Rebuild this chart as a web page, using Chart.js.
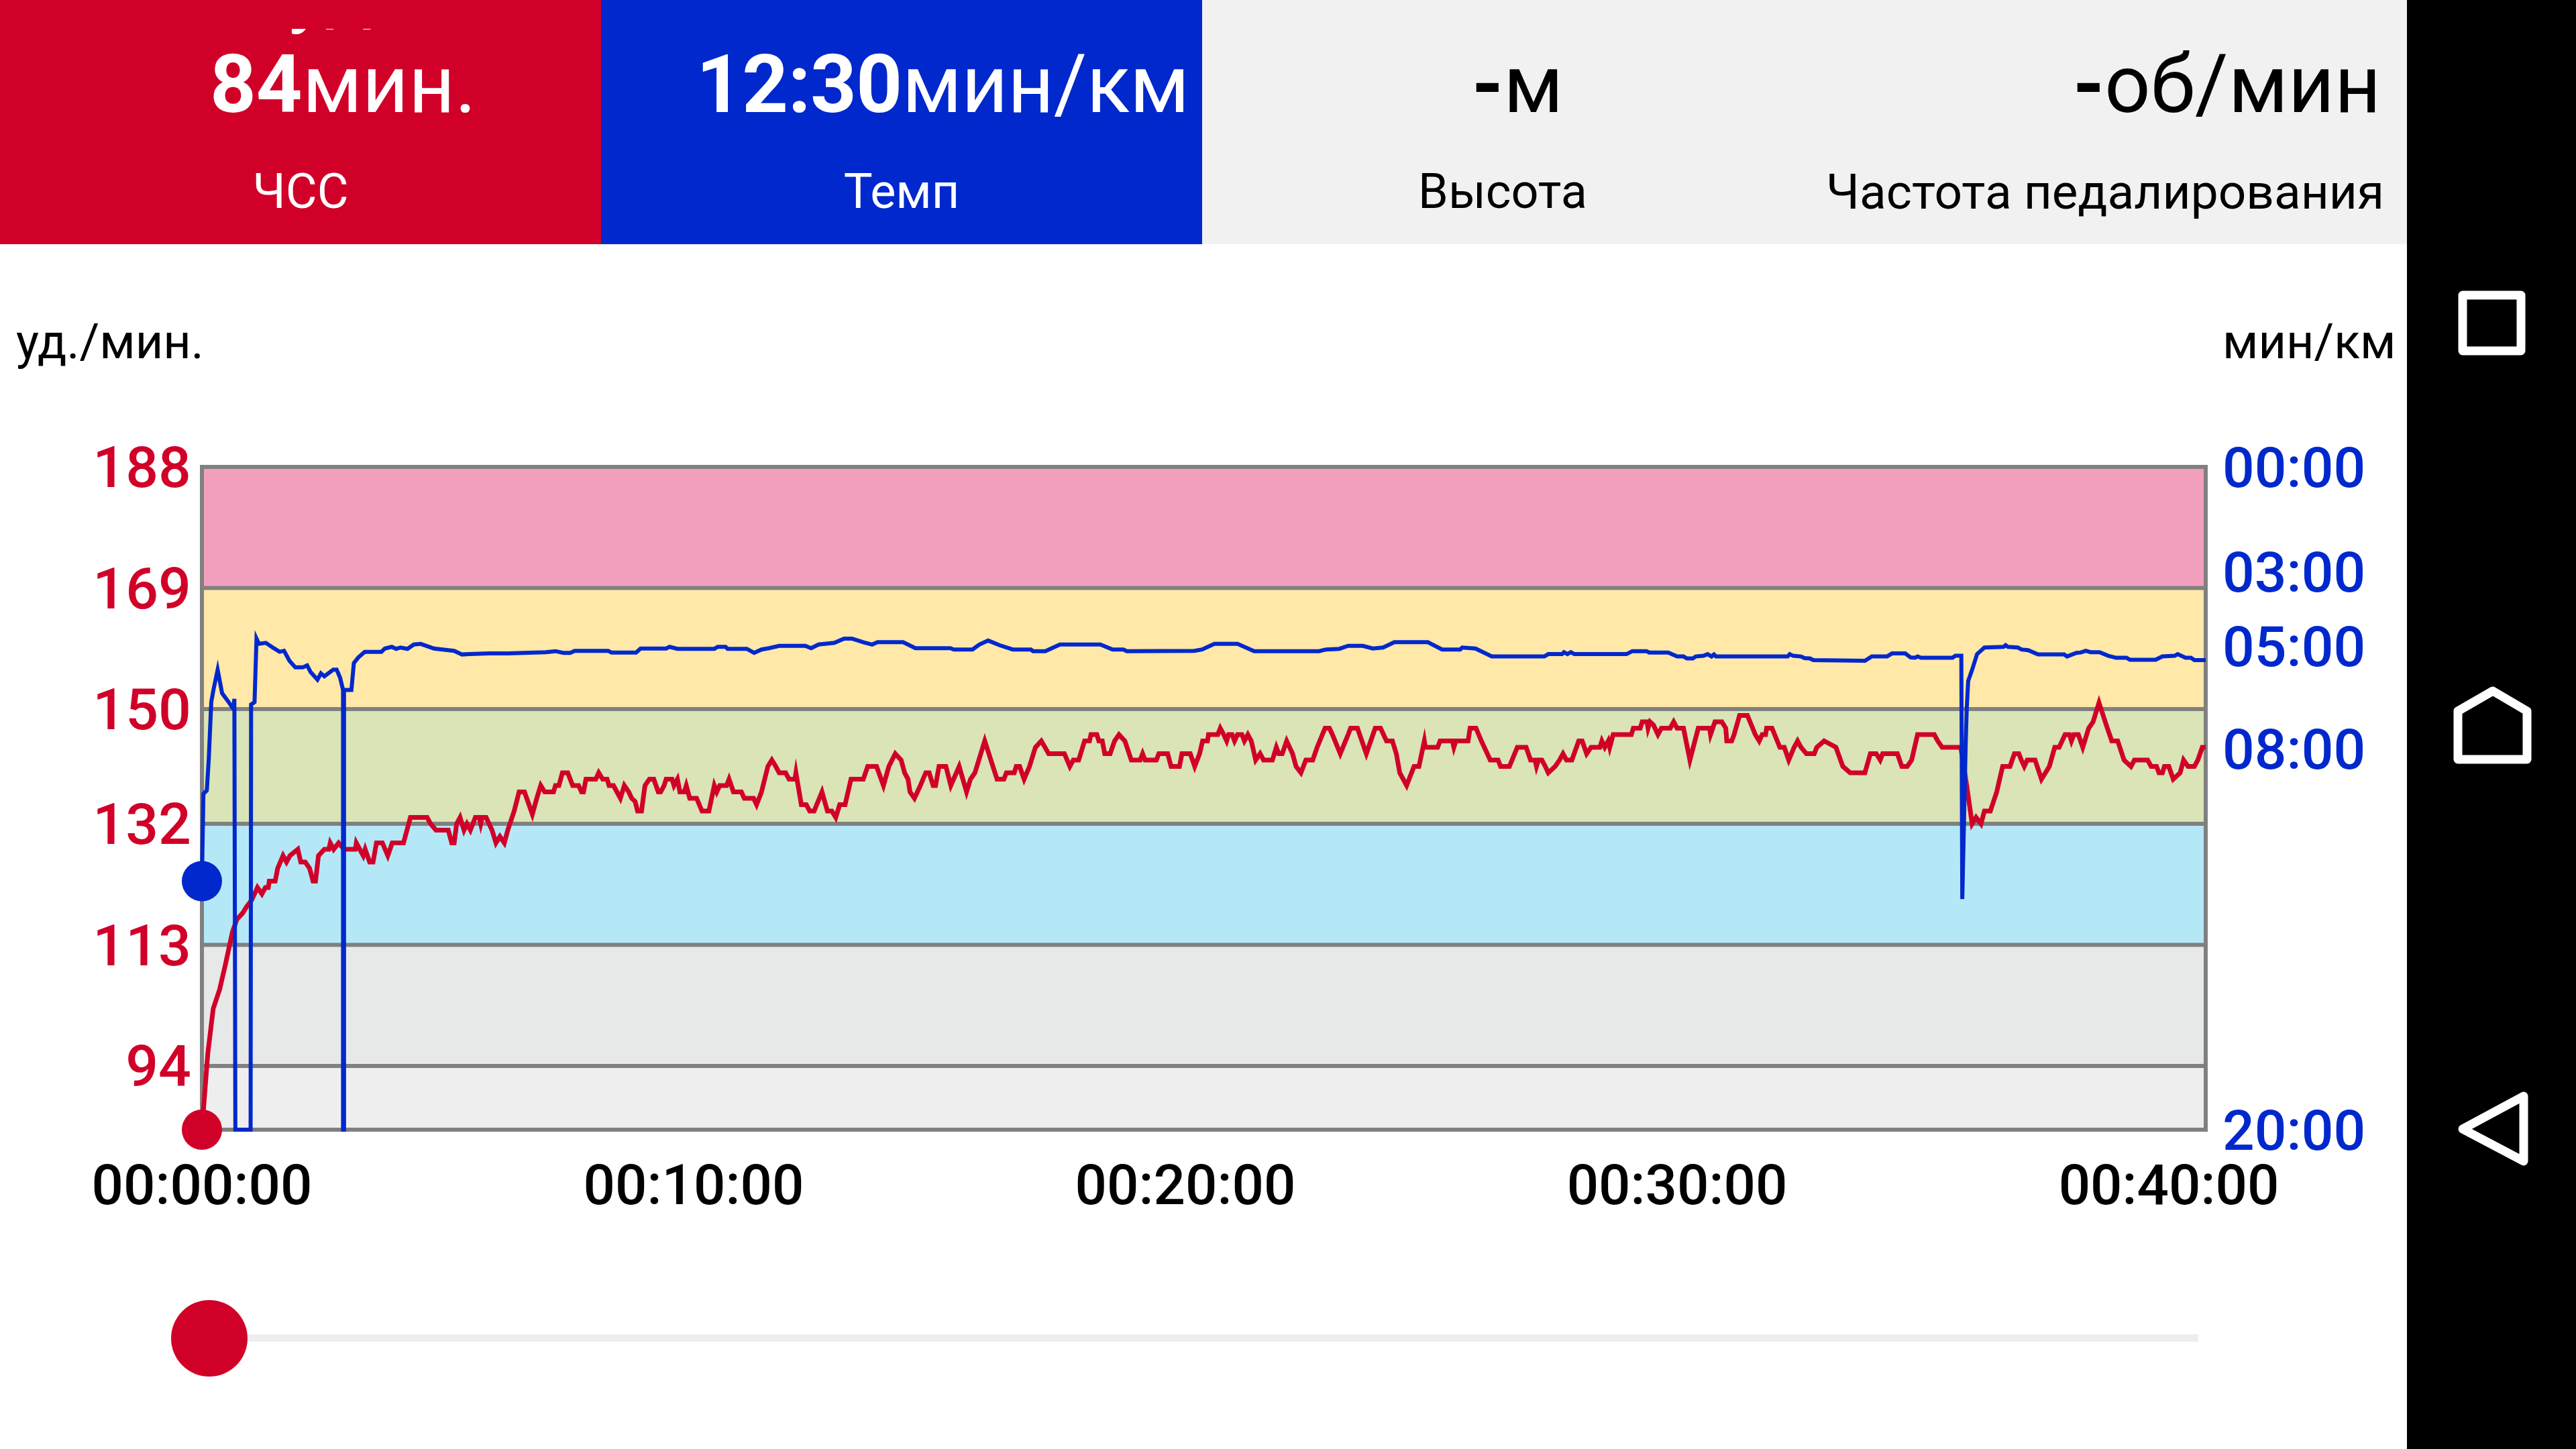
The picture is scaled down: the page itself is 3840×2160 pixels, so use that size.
<!DOCTYPE html>
<html lang="ru">
<head>
<meta charset="utf-8">
<title>ЧСС и темп</title>
<script src="https://cdn.jsdelivr.net/npm/chart.js@4/dist/chart.umd.min.js"></script>
<style>
  html, body { margin: 0; padding: 0; background: #fff; }
  body { position: relative; width: 3840px; height: 2160px; overflow: hidden; font-family: Roboto, sans-serif; }
  canvas { position: absolute; left: 0; top: 0; }
  .cell { position: absolute; top: 0; height: 364px; }
  .big { position: absolute; top: 66px; font-size: 120px; line-height: 120px; white-space: nowrap; }
  .big b { font-weight: 700; }
  .sub { position: absolute; top: 250px; width: 100%; text-align: center; font-size: 72px; line-height: 72px; white-space: nowrap; }
  .unit { position: absolute; top: 474px; font-size: 72px; line-height: 72px; color: #000; white-space: nowrap; }
  .cut { position: absolute; left: 430px; top: 43px; width: 200px; height: 9px; overflow: hidden; }
  .cut span { position: absolute; left: 0; top: -119px; font-size: 120px; line-height: 120px; color: #fff; }
  #track { position: absolute; left: 312px; top: 1989px; width: 2965px; height: 11px; background: #eeeeee; }
  #thumb { position: absolute; left: 255px; top: 1938px; width: 114px; height: 114px; border-radius: 50%; background: #d10028; }
  #nav { position: absolute; left: 3588px; top: 0; width: 252px; height: 2160px; background: #000; }
</style>
</head>
<body>
<canvas id="chartCanvas" width="3840" height="2160"></canvas>

<div class="cell" style="left:0;width:896px;background:#d10028;color:#fff">
  <div class="cut"><span>уд</span></div>
  <div class="big" style="left:313px"><b>84</b>мин.</div>
  <div class="sub">ЧСС</div>
</div>
<div class="cell" style="left:896px;width:896px;background:#0028cc;color:#fff">
  <div class="big" style="left:142px;letter-spacing:-0.5px"><b>12:30</b>мин/км</div>
  <div class="sub">Темп</div>
</div>
<div class="cell" style="left:1792px;width:896px;background:#f1f1f1;color:#000">
  <div class="big" style="left:402px"><b>-</b>м</div>
  <div class="sub">Высота</div>
</div>
<div class="cell" style="left:2688px;width:900px;background:#f1f1f1;color:#000">
  <div class="big" style="left:402px"><b>-</b>об/мин</div>
  <div class="sub" style="font-size:73px">Частота педалирования</div>
</div>

<div class="unit" style="left:24px">уд./мин.</div>
<div class="unit" style="left:3313px">мин/км</div>

<div id="track"></div>
<div id="thumb"></div>

<div id="nav">
  <svg width="252" height="2160" viewBox="3588 0 252 2160" style="position:absolute;left:0;top:0">
    <g fill="none" stroke="#fff" stroke-width="13" stroke-linejoin="round">
      <rect x="3671" y="440" width="87" height="83"/>
      <path d="M3664 1132 V1060 L3716 1030 L3767 1060 V1132 Z"/>
      <path d="M3762 1634 V1731 L3671 1683 Z"/>
    </g>
  </svg>
</div>

<script>
// minutes, bpm
const heartRate = [
  [0,84],[0.12,96],[0.23,103],[0.36,106],[0.48,110],[0.62,115],[0.71,117],[0.83,118],[0.91,119],[1.01,120],
  [1.13,122],[1.22,121],[1.29,122],[1.35,122],[1.37,123],[1.49,123],[1.54,125],[1.65,127],[1.72,126],[1.79,127],
  [1.95,128],[2.01,126],[2.1,126],[2.19,125],[2.26,123],[2.31,123],[2.37,127],[2.49,128],[2.58,128],[2.61,129],
  [2.68,128],[2.78,129],[2.89,128],[3.12,128],[3.14,129],[3.21,128],[3.28,127],[3.32,128],[3.41,126],[3.48,126],
  [3.55,129],[3.67,129],[3.78,127],[3.87,129],[4.1,129],[4.24,133],[4.58,133],[4.65,132],[4.76,131],[5.01,131],
  [5.08,129],[5.13,129],[5.18,132],[5.25,133],[5.33,131],[5.39,132],[5.46,131],[5.56,133],[5.64,133],[5.67,132],
  [5.7,133],[5.78,133],[5.9,131],[5.98,129],[6.06,130],[6.15,129],[6.22,131],[6.35,134],[6.45,137],[6.56,137],
  [6.72,133.5],[6.81,136],[6.89,138],[6.97,137],[7.15,137],[7.19,138],[7.26,138],[7.33,140],[7.44,140],[7.54,138],
  [7.66,138],[7.72,137],[7.76,137],[7.81,139],[8.01,139],[8.07,140],[8.15,139],[8.24,139],[8.28,138],[8.37,138],
  [8.44,137],[8.51,136],[8.59,138],[8.68,137],[8.74,136],[8.81,135.5],[8.86,134],[8.94,134],[9.01,138],[9.1,139],
  [9.19,139],[9.28,137],[9.33,137],[9.4,138],[9.44,139],[9.56,139],[9.6,138],[9.67,139],[9.72,137],[9.81,137],
  [9.85,138],[9.92,136],[10.06,136],[10.17,134],[10.31,134],[10.42,138],[10.47,137],[10.53,138],[10.67,138],[10.72,139],
  [10.81,137],[10.97,137],[11.03,136],[11.22,136],[11.28,135],[11.38,137],[11.51,141],[11.59,142],[11.67,141],[11.74,140],
  [11.87,140],[11.94,139],[12.06,139],[12.08,140],[12.19,135],[12.29,135],[12.36,134],[12.45,134],[12.61,137],[12.72,134],
  [12.81,134],[12.89,133],[12.97,135],[13.08,135],[13.2,139],[13.45,139],[13.54,141],[13.72,141],[13.86,138],[13.97,141],
  [14.1,143],[14.22,142],[14.29,140],[14.36,139],[14.4,137],[14.49,136],[14.61,138],[14.72,140],[14.79,140],[14.87,138],
  [14.92,138],[14.99,141],[15.13,141],[15.23,138],[15.4,141],[15.55,137],[15.63,139],[15.72,140],[15.92,145],[16.17,139],
  [16.31,139],[16.36,140],[16.52,140],[16.56,141],[16.63,141],[16.72,139],[16.83,141],[16.95,144],[17.07,145],[17.22,143],
  [17.54,143],[17.65,141],[17.72,142],[17.83,142],[17.95,145],[18.05,145],[18.08,146],[18.2,146],[18.24,145],[18.31,145],
  [18.36,143],[18.47,143],[18.56,145],[18.65,146],[18.77,145],[18.9,142],[19.08,142],[19.13,143],[19.18,142],[19.41,142],
  [19.46,143],[19.64,143],[19.71,141],[19.88,141],[19.93,143],[20.1,143],[20.19,141],[20.29,143],[20.35,145],[20.45,145],
  [20.47,146],[20.66,146],[20.71,147],[20.78,146],[20.84,145],[20.88,146],[20.95,146],[21,145],[21.06,146],[21.15,146],
  [21.2,145],[21.27,146],[21.34,145],[21.43,142],[21.52,143],[21.59,142],[21.77,142],[21.85,144],[21.9,143],[21.97,143],
  [22.06,145],[22.18,143],[22.25,141],[22.35,140],[22.45,142],[22.59,142],[22.68,144],[22.84,147],[22.93,147],[22.99,146],
  [23.15,143],[23.31,146],[23.36,147],[23.5,147],[23.68,143],[23.86,147],[23.97,147],[24.09,145],[24.21,145],[24.29,143],
  [24.36,140],[24.5,138],[24.65,141],[24.75,141],[24.86,145],[24.88,144],[25.13,144],[25.18,145],[25.43,145],[25.46,144],
  [25.5,145],[25.75,145],[25.79,147],[25.91,147],[26.02,145],[26.2,142],[26.36,142],[26.41,141],[26.59,141],[26.75,144],
  [26.93,144],[27.02,142],[27.11,142],[27.14,141],[27.18,142],[27.25,142],[27.32,141],[27.38,140],[27.52,141],[27.61,142],
  [27.68,143],[27.75,142],[27.86,142],[28,145],[28.07,145],[28.16,143],[28.25,144],[28.43,144],[28.47,145],[28.53,144],
  [28.6,145],[28.63,144],[28.7,146],[29.07,146],[29.11,147],[29.25,147],[29.29,148],[29.39,148],[29.41,147],[29.45,148],
  [29.52,147.5],[29.61,146],[29.68,147],[29.86,147],[29.93,148],[30,147],[30.13,147],[30.26,142],[30.43,147],[30.66,147],
  [30.68,146],[30.77,148],[30.91,148],[30.99,147],[31.01,145],[31.11,145],[31.16,146],[31.27,149],[31.43,149],[31.59,146],
  [31.67,145],[31.73,146],[31.8,146],[31.82,147],[31.93,147],[32.09,144],[32.18,144],[32.27,142],[32.38,144],[32.45,145],
  [32.52,144],[32.63,143],[32.79,143],[32.84,144],[32.99,145],[33.23,144],[33.37,141],[33.52,140],[33.82,140],[33.93,143],
  [34.05,143],[34.13,142],[34.18,143],[34.48,143],[34.57,141],[34.68,141],[34.77,142],[34.89,146],[35.23,146],[35.3,145],
  [35.39,144],[35.77,144],[35.89,138],[36,132],[36.08,133],[36.18,132],[36.25,134],[36.37,134],[36.5,137],[36.62,141],
  [36.77,141],[36.86,143],[36.95,143],[37,142],[37.06,141],[37.12,142],[37.28,142],[37.41,139],[37.57,141],[37.68,144],
  [37.77,144],[37.89,146],[37.98,146],[38.02,145],[38.07,146],[38.16,146],[38.25,144],[38.37,147],[38.46,148],[38.58,151],
  [38.75,147],[38.84,145],[38.96,145],[39.09,142],[39.23,141],[39.3,142],[39.57,142],[39.64,141],[39.75,141],[39.8,140],
  [39.87,140],[39.91,141],[40,141],[40.09,139],[40.23,140],[40.3,142],[40.39,141],[40.52,141],[40.59,142],[40.68,144],[40.75,144]
];

// minutes, pace in min/km
const pace = [
  [0,12.5],[0.03,9.87],[0.1,9.76],[0.14,8.79],[0.19,7.1],[0.23,6.76],[0.32,6.12],[0.41,6.83],[0.53,7.07],[0.64,7.3],
  [0.66,7],[0.68,20],[0.99,20],[1,7.17],[1.07,7.1],[1.11,5.18],[1.16,5.34],[1.3,5.31],[1.44,5.45],[1.58,5.58],
  [1.67,5.55],[1.78,5.85],[1.9,6.05],[2.05,6.05],[2.14,5.99],[2.21,6.19],[2.35,6.42],[2.42,6.23],[2.49,6.32],[2.67,6.12],
  [2.74,6.12],[2.81,6.36],[2.87,6.73],[2.87,20],[2.89,20],[2.89,6.73],[3.04,6.73],[3.09,5.92],[3.18,5.75],[3.31,5.58],
  [3.65,5.58],[3.72,5.48],[3.86,5.43],[3.95,5.49],[4.04,5.45],[4.18,5.49],[4.31,5.36],[4.45,5.34],[4.72,5.48],[5.13,5.55],
  [5.29,5.66],[5.44,5.65],[5.85,5.63],[6.22,5.63],[6.99,5.59],[7.19,5.56],[7.35,5.61],[7.49,5.61],[7.58,5.55],[8.26,5.55],
  [8.33,5.6],[8.83,5.6],[8.92,5.48],[9.44,5.48],[9.51,5.43],[9.67,5.49],[10.42,5.49],[10.49,5.43],[10.65,5.43],[10.69,5.49],
  [11.08,5.49],[11.23,5.61],[11.38,5.51],[11.53,5.47],[11.74,5.4],[12.27,5.4],[12.39,5.47],[12.54,5.36],[12.86,5.31],[13.06,5.18],
  [13.22,5.18],[13.45,5.29],[13.63,5.36],[13.74,5.29],[14.26,5.29],[14.51,5.47],[15.22,5.47],[15.29,5.51],[15.67,5.51],[15.81,5.36],
  [15.99,5.24],[16.22,5.38],[16.49,5.51],[16.86,5.51],[16.9,5.56],[17.15,5.56],[17.45,5.36],[18.27,5.36],[18.52,5.51],[18.74,5.51],
  [18.81,5.56],[20.18,5.55],[20.34,5.51],[20.59,5.34],[21.06,5.34],[21.4,5.56],[22.72,5.56],[22.86,5.51],[23.13,5.49],[23.31,5.4],
  [23.61,5.4],[23.81,5.48],[24.02,5.45],[24.25,5.29],[24.93,5.29],[25.22,5.51],[25.59,5.51],[25.63,5.45],[25.9,5.48],[26.23,5.72],
  [27.3,5.72],[27.38,5.65],[27.66,5.65],[27.7,5.59],[27.77,5.65],[27.84,5.59],[27.91,5.65],[28.97,5.65],[29.09,5.56],[29.38,5.56],
  [29.43,5.6],[29.82,5.6],[30,5.72],[30.13,5.72],[30.2,5.78],[30.32,5.78],[30.38,5.72],[30.54,5.70],[30.62,5.65],[30.7,5.72],
  [30.75,5.66],[30.79,5.72],[32.25,5.72],[32.29,5.65],[32.36,5.7],[32.52,5.72],[32.59,5.77],[32.7,5.78],[32.77,5.83],[33.82,5.85],
  [33.96,5.72],[34.27,5.72],[34.37,5.63],[34.64,5.63],[34.75,5.75],[34.84,5.76],[34.89,5.72],[34.96,5.76],[35.6,5.76],[35.66,5.7],
  [35.78,5.7],[35.8,13.04],[35.84,10.3],[35.87,8.3],[35.89,7.3],[35.92,6.46],[36,6.12],[36.1,5.65],[36.25,5.45],[36.64,5.43],
  [36.68,5.38],[36.73,5.43],[36.93,5.45],[37,5.51],[37.14,5.53],[37.34,5.66],[37.87,5.66],[37.93,5.72],[38.12,5.61],[38.21,5.6],
  [38.31,5.55],[38.41,5.59],[38.59,5.59],[38.77,5.7],[38.93,5.76],[39.14,5.76],[39.21,5.82],[39.73,5.82],[39.87,5.72],[40.12,5.7],
  [40.18,5.65],[40.34,5.76],[40.45,5.76],[40.52,5.83],[40.75,5.83]
];

const xMax = 40.75;
const timeTicks = [0, 10, 20, 30, 40];
const timeLabels = ['00:00:00', '00:10:00', '00:20:00', '00:30:00', '00:40:00'];

const hrMin = 84;
const hrMax = 188;
const hrTicks = [188, 169, 150, 132, 113, 94];
// tick text sits slightly below its line in the app
const hrLabelNudge = 0.9;

const paceMin = 0;
const paceMax = 20;
const paceLabels = ['00:00', '03:00', '05:00', '08:00', '20:00'];
// the app nudges these labels a little off their true place on the axis
const paceLabelPlaces = [0.18, 3.34, 5.59, 8.69, 20.18];

const zoneEdges = [188, 169, 150, 132, 113, 94, 84];
const zoneColors = ['#f29fbd', '#ffe8a8', '#dae4b6', '#b4e8f7', '#e7e8e8', '#eeeeee'];

const RED = '#d10028';
const BLUE = '#0028cc';
const GREY = '#808080';

const toPoints = list => list.map(p => ({ x: p[0], y: p[1] }));

const datasets = [];

// pace and heart rate on top, first point carries the big dot
datasets.push({
  data: toPoints(pace), yAxisID: 'y1', order: 0, clip: false,
  borderColor: BLUE, backgroundColor: BLUE, borderWidth: 6, tension: 0,
  pointBackgroundColor: BLUE, pointBorderWidth: 0,
  pointRadius: ctx => ctx.dataIndex === 0 ? 30 : 0
});
datasets.push({
  data: toPoints(heartRate), yAxisID: 'y', order: 1, clip: false,
  borderColor: RED, backgroundColor: RED, borderWidth: 7, tension: 0,
  pointBackgroundColor: RED, pointBorderWidth: 0,
  pointRadius: ctx => ctx.dataIndex === 0 ? 30 : 0
});

// frame
datasets.push({
  data: [{ x: 0, y: hrMin }, { x: 0, y: hrMax }, { x: xMax, y: hrMax }, { x: xMax, y: hrMin }, { x: 0, y: hrMin }],
  yAxisID: 'y', order: 2, clip: false, borderColor: GREY, borderWidth: 6, pointRadius: 0, borderCapStyle: 'square'
});

// zone lines sit above the zone fills, under the series
hrTicks.slice(1).forEach(t => {
  datasets.push({
    data: [{ x: 0, y: t }, { x: xMax, y: t }],
    yAxisID: 'y', order: 2, borderColor: GREY, borderWidth: 6, pointRadius: 0
  });
});

zoneColors.forEach((c, i) => {
  datasets.push({
    data: [{ x: 0, y: zoneEdges[i] }, { x: xMax, y: zoneEdges[i] }],
    yAxisID: 'y', order: 3, borderWidth: 0, pointRadius: 0,
    backgroundColor: c, fill: { value: zoneEdges[i + 1] }
  });
});

new Chart(document.getElementById('chartCanvas').getContext('2d'), {
  type: 'line',
  data: { datasets: datasets },
  options: {
    responsive: false,
    devicePixelRatio: 1,
    animation: false,
    layout: { padding: { top: 696 } },
    plugins: { legend: { display: false }, tooltip: { enabled: false } },
    scales: {
      x: {
        type: 'linear', min: 0, max: xMax,
        grid: { display: false }, border: { display: false },
        afterBuildTicks: axis => { axis.ticks = timeTicks.map(v => ({ value: v })); },
        afterFit: axis => { axis.height = 476; },
        ticks: {
          autoSkip: false, maxRotation: 0, padding: 32, color: '#000',
          font: { family: 'Roboto', size: 83.5, weight: '500' },
          callback: (v, i) => timeLabels[i]
        }
      },
      y: {
        position: 'left', min: hrMin, max: hrMax,
        grid: { display: false, drawTicks: false }, border: { display: false },
        afterBuildTicks: axis => { axis.ticks = hrTicks.map(v => ({ value: v - hrLabelNudge })); },
        afterFit: axis => { axis.width = 301; },
        ticks: {
          autoSkip: false, padding: 16, color: RED,
          font: { family: 'Roboto', size: 86, weight: '500' },
          callback: (v, i) => String(hrTicks[i])
        }
      },
      y1: {
        position: 'right', min: paceMin, max: paceMax, reverse: true,
        grid: { display: false, drawTicks: false }, border: { display: false },
        afterBuildTicks: axis => { axis.ticks = paceLabelPlaces.map(v => ({ value: v })); },
        afterFit: axis => { axis.width = 552; },
        ticks: {
          autoSkip: false, padding: 25, color: BLUE,
          font: { family: 'Roboto', size: 84, weight: '500' },
          callback: (v, i) => paceLabels[i]
        }
      }
    }
  }
});
</script>
</body>
</html>
